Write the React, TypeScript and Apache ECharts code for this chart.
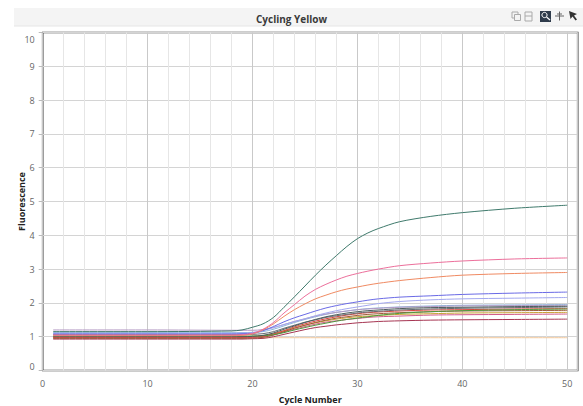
import React, { useEffect, useRef } from "react";
import * as echarts from "echarts";

const cycles = [1, 10, 18, 19, 20, 21, 22, 23, 24, 25, 26, 27, 28, 29, 30, 31, 32, 34, 37, 40, 45, 50];

const mainGreen = [1.15, 1.15, 1.17, 1.2, 1.28, 1.38, 1.57, 1.87, 2.18, 2.5, 2.82, 3.12, 3.4, 3.67, 3.9, 4.07, 4.2, 4.4, 4.56, 4.67, 4.8, 4.89];
const pink = [1.05, 1.05, 1.05, 1.06, 1.1, 1.22, 1.42, 1.7, 1.95, 2.2, 2.4, 2.55, 2.68, 2.79, 2.87, 2.94, 3.0, 3.1, 3.18, 3.24, 3.3, 3.33];
const orange = [1.03, 1.03, 1.03, 1.04, 1.08, 1.2, 1.38, 1.6, 1.8, 1.97, 2.12, 2.23, 2.33, 2.41, 2.47, 2.53, 2.58, 2.66, 2.75, 2.82, 2.87, 2.9];
const blue = [1.08, 1.08, 1.08, 1.09, 1.1, 1.18, 1.3, 1.44, 1.56, 1.66, 1.76, 1.85, 1.92, 1.98, 2.03, 2.08, 2.12, 2.17, 2.21, 2.25, 2.29, 2.32];
const lavender = [1.1, 1.1, 1.1, 1.11, 1.12, 1.18, 1.27, 1.36, 1.45, 1.53, 1.62, 1.7, 1.77, 1.83, 1.88, 1.93, 1.98, 2.04, 2.09, 2.12, 2.14, 2.16];
const slate = [1.0, 1.0, 1.0, 1.0, 1.01, 1.04, 1.11, 1.22, 1.32, 1.42, 1.51, 1.59, 1.65, 1.7, 1.74, 1.77, 1.79, 1.83, 1.86, 1.87, 1.89, 1.9];
const greyPurple = [1.2, 1.2, 1.19, 1.19, 1.19, 1.21, 1.27, 1.36, 1.45, 1.53, 1.61, 1.67, 1.72, 1.76, 1.8, 1.82, 1.84, 1.87, 1.89, 1.91, 1.92, 1.93];
const green = [1.02, 1.02, 1.02, 1.02, 1.02, 1.03, 1.06, 1.12, 1.2, 1.27, 1.34, 1.4, 1.46, 1.51, 1.55, 1.59, 1.63, 1.69, 1.74, 1.77, 1.8, 1.82];
const red = [0.98, 0.98, 0.98, 0.98, 0.99, 1.01, 1.08, 1.18, 1.29, 1.38, 1.46, 1.53, 1.59, 1.64, 1.68, 1.71, 1.73, 1.76, 1.79, 1.8, 1.82, 1.83];
const brown = [0.95, 0.95, 0.95, 0.95, 0.96, 0.98, 1.05, 1.15, 1.25, 1.34, 1.42, 1.49, 1.55, 1.59, 1.63, 1.66, 1.68, 1.71, 1.74, 1.76, 1.77, 1.78];
const olive = [1.0, 1.0, 1.0, 1.0, 1.01, 1.03, 1.09, 1.17, 1.26, 1.34, 1.41, 1.47, 1.52, 1.56, 1.59, 1.61, 1.63, 1.66, 1.68, 1.7, 1.71, 1.72];
const rose = [0.97, 0.97, 0.97, 0.97, 0.98, 1.0, 1.05, 1.14, 1.22, 1.3, 1.37, 1.43, 1.47, 1.51, 1.54, 1.57, 1.59, 1.61, 1.64, 1.65, 1.66, 1.67];
const darkRed = [0.93, 0.93, 0.93, 0.93, 0.94, 0.95, 1.0, 1.07, 1.14, 1.21, 1.27, 1.31, 1.35, 1.38, 1.41, 1.43, 1.45, 1.47, 1.49, 1.5, 1.51, 1.52];
const lightBlue = [1.12, 1.12, 1.12, 1.12, 1.13, 1.15, 1.22, 1.32, 1.42, 1.51, 1.59, 1.66, 1.72, 1.76, 1.8, 1.83, 1.85, 1.88, 1.91, 1.93, 1.94, 1.95];
const darkGray = [1.06, 1.06, 1.06, 1.06, 1.07, 1.09, 1.15, 1.25, 1.34, 1.43, 1.5, 1.57, 1.62, 1.66, 1.7, 1.73, 1.75, 1.79, 1.82, 1.84, 1.86, 1.88];
const tan = [0.97, 0.97, 0.97, 0.97, 0.97, 0.97, 0.97, 0.97, 0.97, 0.97, 0.97, 0.97, 0.97, 0.97, 0.97, 0.97, 0.97, 0.97, 0.97, 0.97, 0.97, 0.97];

const seriesList: { name: string; values: number[]; color: string }[] = [
  { name: "tan", values: tan, color: "#f2c79a" },
  { name: "darkRed", values: darkRed, color: "#a63552" },
  { name: "rose", values: rose, color: "#d25a8a" },
  { name: "olive", values: olive, color: "#c9a234" },
  { name: "brown", values: brown, color: "#9c5a3a" },
  { name: "red", values: red, color: "#d9473f" },
  { name: "green", values: green, color: "#4e9a3c" },
  { name: "lightBlue", values: lightBlue, color: "#8ab4dc" },
  { name: "greyPurple", values: greyPurple, color: "#b49ac4" },
  { name: "darkGray", values: darkGray, color: "#666a70" },
  { name: "slate", values: slate, color: "#4d5c5c" },
  { name: "lavender", values: lavender, color: "#a3a8f0" },
  { name: "blue", values: blue, color: "#6a6ae6" },
  { name: "orange", values: orange, color: "#f08a62" },
  { name: "pink", values: pink, color: "#ec6f9b" },
  { name: "mainGreen", values: mainGreen, color: "#3f7a6c" },
];

const FONT = "'Open Sans', 'Noto Sans', sans-serif";

export default function App() {
  const ref = useRef<HTMLDivElement>(null);
  useEffect(() => {
    if (!ref.current) return;
    const chart = echarts.init(ref.current, undefined, { renderer: "svg" });
    const labelStyle = { fontFamily: FONT, fontSize: 9, color: "#666" };
    const option: any = {
      animation: false,
      backgroundColor: "#ffffff",
      title: {
        text: "Cycling Yellow",
        left: "center",
        top: 9,
        textStyle: { fontFamily: FONT, fontSize: 10, fontWeight: "bold", color: "#3a3a3a" },
      },
      graphic: [
        { type: "rect", z: -1, shape: { x: 14, y: 8, width: 569, height: 18 }, style: { fill: "#f4f4f4" } },
        { type: "line", shape: { x1: 14, y1: 26, x2: 583, y2: 26 }, style: { stroke: "#e6e6e6", lineWidth: 1 } },
        { type: "rect", shape: { x: 512, y: 12, width: 6, height: 6 }, style: { fill: "none", stroke: "#aaa", lineWidth: 1 } },
        { type: "rect", shape: { x: 514.5, y: 14.5, width: 6, height: 6 }, style: { fill: "#f4f4f4", stroke: "#aaa", lineWidth: 1 } },
        { type: "rect", shape: { x: 525, y: 12, width: 7, height: 9 }, style: { fill: "none", stroke: "#aaa", lineWidth: 1 } },
        { type: "line", shape: { x1: 525, y1: 16, x2: 532, y2: 16 }, style: { stroke: "#aaa", lineWidth: 1 } },
        { type: "rect", shape: { x: 540, y: 11, width: 11, height: 11 }, style: { fill: "#2f3c4c" } },
        { type: "circle", shape: { cx: 544.5, cy: 15, r: 2.6 }, style: { fill: "none", stroke: "#fff", lineWidth: 1 } },
        { type: "line", shape: { x1: 546.5, y1: 17, x2: 550, y2: 20 }, style: { stroke: "#fff", lineWidth: 1.2 } },
        { type: "line", shape: { x1: 555, y1: 16, x2: 564, y2: 16 }, style: { stroke: "#666", lineWidth: 1 } },
        { type: "line", shape: { x1: 559.5, y1: 11.5, x2: 559.5, y2: 20.5 }, style: { stroke: "#666", lineWidth: 1 } },
        { type: "line", shape: { x1: 557, y1: 14, x2: 562, y2: 14 }, style: { stroke: "#666", lineWidth: 1 } },
        { type: "polygon", shape: { points: [[569, 11], [577, 14], [574, 15.5], [577, 19.5], [575.5, 20.5], [572.5, 16.5], [570.5, 19]] }, style: { fill: "#333" } },
      ],
      grid: {
        left: 42.7,
        right: 5.3,
        top: 32.5,
        bottom: 35.5,
        show: true,
        outerBoundsMode: "none",
        containLabel: false,
        borderColor: "#3a3a3a",
        borderWidth: 1.6,
        backgroundColor: "#ffffff",
      },
      xAxis: {
        type: "value",
        min: 0,
        max: 51,
        interval: 10,
        name: "Cycle Number",
        nameLocation: "middle",
        nameGap: 24,
        nameMoveOverlap: false,
        nameTextStyle: { fontFamily: FONT, fontSize: 9, fontWeight: "bold", color: "#222" },
        axisLine: { show: false },
        axisTick: { show: false },
        axisLabel: {
          ...labelStyle,
          margin: 8,
          formatter: (v: number) => (v % 10 === 0 ? String(v) : ""),
        },
        splitLine: { show: true, lineStyle: { color: "#c9c9c9", width: 1 } },
        minorTick: { show: false, splitNumber: 5 },
        minorSplitLine: { show: true, lineStyle: { color: "#e6e6e6", width: 1 } },
      },
      yAxis: {
        type: "value",
        min: 0,
        max: 10,
        interval: 1,
        name: "Fluorescence",
        nameLocation: "middle",
        nameGap: 17,
        nameMoveOverlap: false,
        nameTextStyle: { fontFamily: FONT, fontSize: 9, fontWeight: "bold", color: "#222" },
        axisLine: { show: false },
        axisTick: { show: true, length: 4, lineStyle: { color: "#bbbbbb" } },
        axisLabel: {
          ...labelStyle,
          margin: 8,
          formatter: (v: number) => (v === 10 ? "{t|10}" : v === 0 ? "{b|0}" : String(v)),
          rich: {
            t: { ...labelStyle, padding: [13, 0, 0, 0] },
            b: { ...labelStyle, padding: [0, 0, 8, 0] },
          },
        },
        splitLine: { show: true, lineStyle: { color: "#d4d4d4", width: 1 } },
      },
      series: seriesList.map((s) => ({
        name: s.name,
        type: "line",
        data: cycles.map((c, i) => [c, s.values[i]]),
        smooth: 0.3,
        showSymbol: false,
        symbol: "none",
        lineStyle: { color: s.color, width: 1 },
        itemStyle: { color: s.color },
        emphasis: { disabled: true },
      })),
    };
    chart.setOption(option);
    return () => chart.dispose();
  }, []);
  return (
    <div
      ref={ref}
      style={{ position: "absolute", left: 0, top: 0, width: 583, height: 406 }}
    />
  );
}
